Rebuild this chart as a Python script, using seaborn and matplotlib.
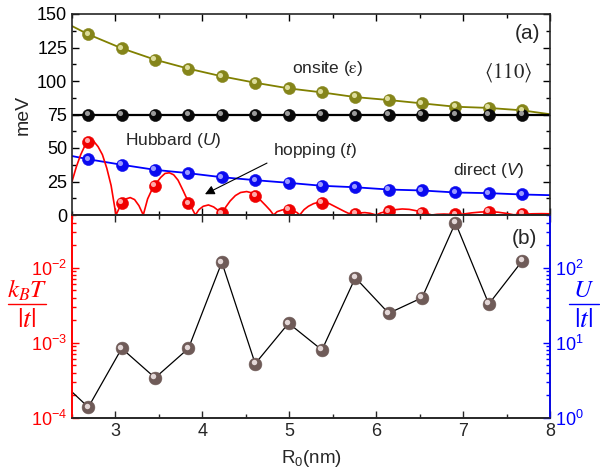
import matplotlib
matplotlib.use("Agg")
import matplotlib.pyplot as plt
import seaborn as sns
from matplotlib.lines import Line2D
from matplotlib.ticker import MultipleLocator, LogLocator, NullFormatter
from matplotlib.transforms import offset_copy

# ---------------- data ----------------
R0 = [2.688, 3.072, 3.456, 3.840, 4.224, 4.608, 4.992,
      5.376, 5.760, 6.144, 6.528, 6.912, 7.296, 7.680]
onsite = [134.8, 124.4, 115.9, 109.2, 103.5, 98.7, 94.5,
          91.5, 88.0, 85.8, 83.3, 80.8, 79.9, 78.1]
hubbard = [75, 75, 75, 75, 75, 75, 75, 75, 75, 75, 75, 75, 75, 75]
direct = [41.6, 37.5, 33.7, 31.2, 28.2, 26.0, 24.0,
          21.8, 20.7, 19.0, 18.3, 16.8, 16.3, 15.3]
hopping = [54.6, 8.9, 22.0, 8.8, 1.3, 14.3, 3.9,
           9.3, 1.1, 2.9, 1.8, 0.6, 2.3, 0.8]

# fitted curves
onsite_curve_R = [2.5] + R0 + [8.0]
onsite_curve = [141.0] + onsite + [75.2]
hubbard_curve_R = [2.5, 8.0]
hubbard_curve = [75, 75]
direct_curve_R = [2.5] + R0 + [8.0]
direct_curve = [44.0] + direct + [14.8]
hopping_curve_R = [2.50, 2.55, 2.60, 2.65, 2.70, 2.75, 2.80, 2.85, 2.90, 2.95, 3.006,
                   3.05, 3.08, 3.12, 3.17, 3.22, 3.27, 3.32,
                   3.37, 3.42, 3.46, 3.52, 3.57, 3.62, 3.67, 3.72, 3.78, 3.84, 3.88, 3.92,
                   3.96, 4.01, 4.07, 4.13, 4.18, 4.22,
                   4.27, 4.32, 4.38, 4.44, 4.51, 4.57, 4.61, 4.67, 4.73, 4.78, 4.82,
                   4.86, 4.92, 4.98, 5.04, 5.09, 5.12,
                   5.17, 5.22, 5.28, 5.34, 5.40, 5.46, 5.52, 5.58, 5.64, 5.69, 5.72,
                   5.77, 5.82, 5.87, 5.93, 6.00,
                   6.05, 6.10, 6.15, 6.22, 6.30, 6.38, 6.46, 6.54, 6.60, 6.64,
                   6.70, 6.78, 6.86, 6.93, 7.00, 7.10, 7.20, 7.30, 7.40, 7.50, 7.58,
                   7.64, 7.69, 7.80, 7.90, 8.00]
hopping_curve = [25, 36, 45, 52, 55.5, 55, 51, 45, 35, 22, 0,
                 6, 9.5, 12, 13, 11.5, 7, 0,
                 12, 19, 23, 28, 31, 31.5, 30, 26, 18, 9.5, 5, 0,
                 4, 6.5, 7.5, 6, 3.5, 0,
                 6, 10.5, 14.5, 16.8, 17.5, 16.5, 14.5, 11, 7, 3.5, 0,
                 2.5, 3.8, 4.1, 3.3, 1.8, 0,
                 4, 6.5, 8.5, 9.5, 9.6, 8.5, 6.5, 4.5, 2.5, 1.0, 0,
                 1.0, 1.6, 1.8, 1.3, 0,
                 1.5, 2.4, 3.0, 4.0, 4.5, 4.2, 3.2, 1.9, 0.8, 0,
                 0.5, 0.7, 0.5, 0.1, 0.7, 1.6, 2.2, 2.4, 2.1, 1.2, 0.2,
                 0.3, 0.6, 0.9, 1.0, 0.9]

# panel (b): kB T/|t| (left axis); U/|t| = 1e4 * that (right axis)
ratio_R = [2.304] + R0
kT_over_t = [3.6e-4, 1.38e-4, 8.4e-4, 3.4e-4, 8.4e-4, 1.18e-2, 5.25e-4, 1.82e-3,
             8.0e-4, 7.36e-3, 2.47e-3, 3.98e-3, 3.98e-2, 3.28e-3, 1.23e-2]

x_ticks = [3, 4, 5, 6, 7, 8]

# ---------------- style ----------------
sns.set_theme(style="ticks")
plt.rcParams["font.family"] = ["Liberation Sans", "DejaVu Sans"]
plt.rcParams["mathtext.fontset"] = "custom"
plt.rcParams["mathtext.rm"] = "Liberation Sans"
plt.rcParams["mathtext.it"] = "Liberation Sans:italic"
plt.rcParams["axes.linewidth"] = 1.2
plt.rcParams["xtick.direction"] = "in"
plt.rcParams["ytick.direction"] = "in"

fig = plt.figure(figsize=(6.0, 4.75), dpi=100)
L, Rr = 72 / 600, 550 / 600
ax = fig.add_axes([L, 1 - 215 / 475, Rr - L, (215 - 14) / 475])
axb = fig.add_axes([L, 1 - 417.7 / 475, Rr - L, (417.7 - 215) / 475])


def spheres(a, x, y, color, hl, s=75, dx=-1.6, dy=1.6):
    sns.scatterplot(x=x, y=y, ax=a, color=color, s=s, edgecolor=color,
                    linewidth=0.4, zorder=4, legend=False)
    tr = offset_copy(a.transData, fig=a.figure, x=dx, y=dy, units="dots")
    a.scatter(x, y, s=s * 0.18, color=hl, linewidths=0, zorder=5, transform=tr)


# ---------------- panel (a) ----------------
sns.lineplot(x=onsite_curve_R, y=onsite_curve, ax=ax, color="#808000", lw=1.3,
             estimator=None, sort=False)
sns.lineplot(x=hubbard_curve_R, y=hubbard_curve, ax=ax, color="black", lw=1.6,
             estimator=None, sort=False)
sns.lineplot(x=direct_curve_R, y=direct_curve, ax=ax, color="#0000ff", lw=1.3,
             estimator=None, sort=False)
sns.lineplot(x=hopping_curve_R, y=hopping_curve, ax=ax, color="#ff0000", lw=1.2,
             estimator=None, sort=False)
spheres(ax, R0, onsite, "#85851a", "#dcdc9a")
spheres(ax, R0, hubbard, "#080808", "#9a9a9a")
spheres(ax, R0, direct, "#0a0af0", "#9a9aff")
spheres(ax, R0, hopping, "#f00000", "#ffaaaa")

ax.set_xlim(2.5, 8)
ax.set_ylim(0, 150)
ax.yaxis.set_major_locator(MultipleLocator(25))
ax.yaxis.set_minor_locator(MultipleLocator(12.5))
ax.xaxis.set_major_locator(MultipleLocator(1))
ax.xaxis.set_minor_locator(MultipleLocator(0.5))
ax.tick_params(which="both", top=True, right=True, labelbottom=False,
               labelsize=13, colors="black")
ax.tick_params(which="major", length=5, width=1)
ax.tick_params(which="minor", length=3, width=1)
ax.set_ylabel("meV", fontsize=14, labelpad=4)
ax.set_xlabel("")

ax.text(7.74, 135.5, "(a)", fontsize=15, ha="center", va="center")
ax.text(5.03, 109, r"onsite ($\mathrm{\varepsilon}$)", fontsize=12.5, ha="left",
        va="center", math_fontfamily="stix")
ax.text(7.52, 106, r"$\langle 110\rangle$", fontsize=15, ha="center",
        va="center", math_fontfamily="stix")
ax.text(3.11, 55.5, r"Hubbard ($U$)", fontsize=12.5, ha="left", va="center")
ax.text(6.88, 33, r"direct ($V$)", fontsize=12.5, ha="left", va="center")
ax.annotate(r"hopping ($t$)", xy=(4.03, 15.5), xytext=(4.81, 48),
            fontsize=12.5, ha="left", va="center",
            arrowprops=dict(arrowstyle="-|>", color="black", lw=0.8,
                            mutation_scale=14, shrinkA=2, shrinkB=0,
                            relpos=(0.0, 0.0)))

# ---------------- panel (b) ----------------
axb.set_yscale("log")
axb.set_xlim(2.5, 8)
axb.set_ylim(1e-4, 10 ** -1.297)
sns.lineplot(x=ratio_R, y=kT_over_t, ax=axb, color="black", lw=0.9,
             estimator=None, sort=False)
spheres(axb, ratio_R, kT_over_t, "#6f5b58", "#e4d8d8", s=85)
axb.set_xlim(2.5, 8)
axb.set_ylim(1e-4, 10 ** -1.297)
axb.set_xticks(x_ticks)
axb.xaxis.set_minor_locator(MultipleLocator(0.5))
axb.yaxis.set_major_locator(LogLocator(base=10, numticks=10))
axb.yaxis.set_minor_locator(LogLocator(base=10, subs=range(2, 10), numticks=10))
axb.yaxis.set_minor_formatter(NullFormatter())
axb.tick_params(which="both", top=True, labelsize=13)
axb.tick_params(axis="y", which="both", colors="#ff0000", labelcolor="#ff0000")
axb.tick_params(which="major", length=5, width=1)
axb.tick_params(which="minor", length=3, width=1)
axb.spines["left"].set_color("#ff0000")
axb.set_xlabel(r"R$_0$(nm)", fontsize=13.5, labelpad=6)
axb.set_ylabel("")

ax2 = axb.twinx()
ax2.set_yscale("log")
ax2.set_ylim(1, 10 ** 2.703)
ax2.yaxis.set_major_locator(LogLocator(base=10, numticks=10))
ax2.yaxis.set_minor_locator(LogLocator(base=10, subs=range(2, 10), numticks=10))
ax2.yaxis.set_minor_formatter(NullFormatter())
ax2.tick_params(axis="y", which="both", direction="in", colors="#0000ff",
                labelcolor="#0000ff", labelsize=13)
ax2.tick_params(which="major", length=5, width=1)
ax2.tick_params(which="minor", length=3, width=1)
ax2.spines["right"].set_color("#0000ff")
ax2.spines["left"].set_color("#ff0000")
ax2.spines["right"].set_linewidth(1.2)

axb.text(7.71, 10 ** -1.608, "(b)", fontsize=15, ha="center", va="center")


def fraction(xc, num, x0, x1, color):
    fig.text(xc / 600, 1 - 290 / 475, num, color=color, fontsize=18,
             ha="center", va="center", math_fontfamily="stix")
    fig.add_artist(Line2D([x0 / 600, x1 / 600], [1 - 304 / 475, 1 - 304 / 475],
                          color=color, lw=1.0, transform=fig.transFigure))
    fig.text(xc / 600, 1 - 320 / 475, r"$|t|$", color=color, fontsize=20,
             ha="center", va="center", math_fontfamily="stix")


fraction(27, r"$k_{B}T$", 8, 46, "#ff0000")
fraction(584, r"$U$", 569, 599, "#0000ff")

fig.savefig("out.png", dpi=100)
